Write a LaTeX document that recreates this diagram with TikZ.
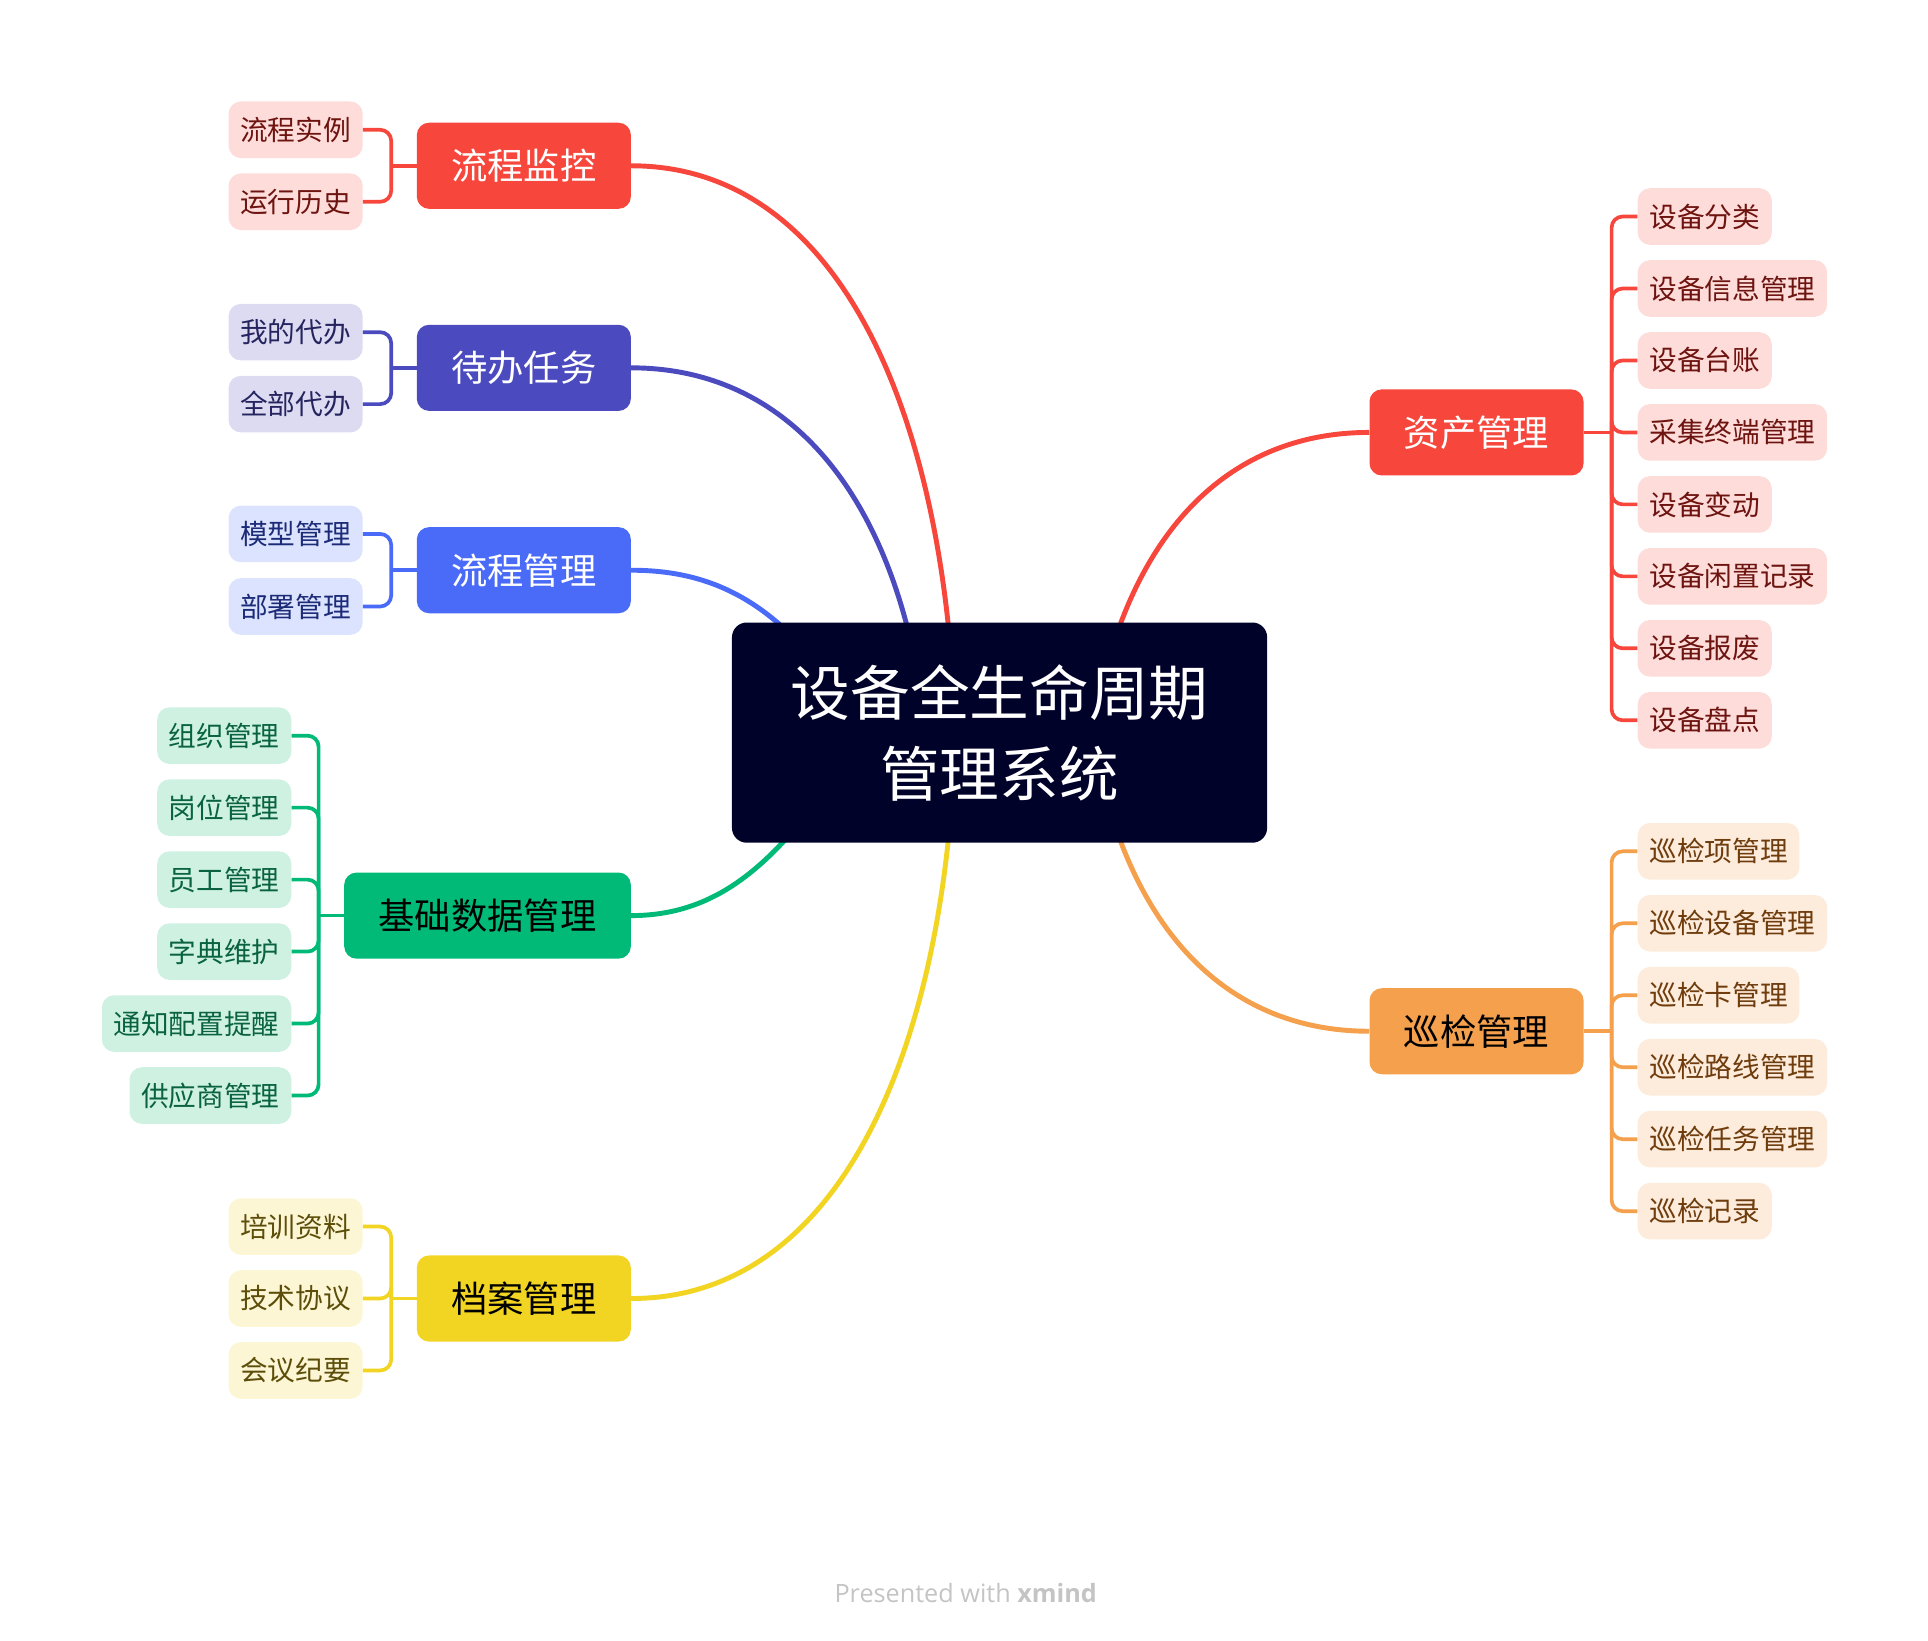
\documentclass[tikz,border=0pt]{standalone}
\usepackage{fontspec}
\setmainfont{Noto Sans CJK SC}
\newfontfamily\footfont{Open Sans}
\definecolor{cRoot}{HTML}{000229}
\definecolor{cRed}{HTML}{F7463C}
\definecolor{cInd}{HTML}{4B4ABF}
\definecolor{cBlue}{HTML}{4A6BF8}
\definecolor{cGreen}{HTML}{02BA77}
\definecolor{cYel}{HTML}{F2D422}
\definecolor{cOra}{HTML}{F5A04C}
\definecolor{fRed}{HTML}{FDDCDA}
\definecolor{fInd}{HTML}{DCDBF2}
\definecolor{fBlue}{HTML}{DCE3FE}
\definecolor{fGreen}{HTML}{CEF1E2}
\definecolor{fYel}{HTML}{FDF6D4}
\definecolor{fOra}{HTML}{FDEBDB}
\definecolor{tRed}{HTML}{6E1410}
\definecolor{tInd}{HTML}{25245E}
\definecolor{tBlue}{HTML}{1C2B78}
\definecolor{tGreen}{HTML}{0A6340}
\definecolor{tYel}{HTML}{5C4E0A}
\definecolor{tOra}{HTML}{6E3C0D}
\definecolor{cFoot}{HTML}{C4C4C4}
\begin{document}
\begin{tikzpicture}[x=1pt,y=-1pt,
  subbox/.style={rounded corners=10pt, inner xsep=9.5pt, inner ysep=0pt, minimum height=46pt, font=\fontsize{22.5}{27}\selectfont},
  topicbox/.style={rounded corners=10pt, inner xsep=28pt, inner ysep=0pt, minimum height=70pt, font=\fontsize{29.5}{35}\selectfont},
  rootbox/.style={rounded corners=12pt, fill=cRoot, text=white, minimum width=435pt, minimum height=179pt, inner sep=0pt, align=center, font=\fontsize{48.5}{66}\selectfont},
  curve/.style={line width=4pt},
  brk/.style={line width=3pt, rounded corners=9pt},
  sRed/.style={subbox, fill=fRed, text=tRed},
  sInd/.style={subbox, fill=fInd, text=tInd},
  sBlue/.style={subbox, fill=fBlue, text=tBlue},
  sGreen/.style={subbox, fill=fGreen, text=tGreen},
  sYel/.style={subbox, fill=fYel, text=tYel},
  sOra/.style={subbox, fill=fOra, text=tOra},
]
\useasboundingbox (0,0) rectangle (1567.2,1333.2);

% main topics
\node[topicbox, fill=cRed, text=white, anchor=east] (t1) at (513,134.75) {流程监控};
\node[topicbox, fill=cInd, text=white, anchor=east] (t2) at (513,299) {待办任务};
\node[topicbox, fill=cBlue, text=white, anchor=east] (t3) at (513,463.5) {流程管理};
\node[topicbox, fill=cGreen, text=black, anchor=east] (t4) at (513,744.25) {基础数据管理};
\node[topicbox, fill=cYel, text=black, anchor=east] (t5) at (513,1055.5) {档案管理};
\node[topicbox, fill=cRed, text=white, anchor=west] (t6) at (1113,351.5) {资产管理};
\node[topicbox, fill=cOra, text=black, anchor=west] (t7) at (1113,838.25) {巡检管理};

% curve end points (hidden behind root)
\coordinate (e1) at (775,560);
\coordinate (e2) at (748,560);
\coordinate (e3) at (680,560);
\coordinate (e4) at (680,630);
\coordinate (e5) at (775,631);
\coordinate (e6) at (895,560);
\coordinate (e7) at (895,631);

\draw[curve, cRed] (t1.east) .. controls (680,134.75) and (762,330) .. (e1);
\draw[curve, cInd] (t2.east) .. controls (640,299) and (722,400) .. (e2);
\draw[curve, cBlue] (t3.east) .. controls (580,463.5) and (630,490) .. (e3);
\draw[curve, cGreen] (t4.east) .. controls (585,744.25) and (630,700) .. (e4);
\draw[curve, cYel] (t5.east) .. controls (680,1055.5) and (762,861) .. (e5);
\draw[curve, cRed] (t6.west) .. controls (1000,351.5) and (925,430) .. (e6);
\draw[curve, cOra] (t7.west) .. controls (1000,838.25) and (925,760) .. (e7);

\node[rootbox] (root) at (812.5,595.5) {设备全生命周期\\管理系统};

% sub topics: 流程监控
\node[sRed, anchor=east] (a1) at (295,105.5) {流程实例};
\node[sRed, anchor=east] (a2) at (295,164) {运行历史};
\coordinate (ja) at (318,134.75);
\draw[brk, cRed] (a1.east) -| (ja);
\draw[brk, cRed] (a2.east) -| (ja);
\draw[brk, cRed] (ja) -- (t1.west);

% 待办任务
\node[sInd, anchor=east] (b1) at (295,270) {我的代办};
\node[sInd, anchor=east] (b2) at (295,328.5) {全部代办};
\coordinate (jb) at (318,299);
\draw[brk, cInd] (b1.east) -| (jb);
\draw[brk, cInd] (b2.east) -| (jb);
\draw[brk, cInd] (jb) -- (t2.west);

% 流程管理
\node[sBlue, anchor=east] (c1) at (295,434) {模型管理};
\node[sBlue, anchor=east] (c2) at (295,493) {部署管理};
\coordinate (jc) at (318,463.5);
\draw[brk, cBlue] (c1.east) -| (jc);
\draw[brk, cBlue] (c2.east) -| (jc);
\draw[brk, cBlue] (jc) -- (t3.west);

% 基础数据管理
\node[sGreen, anchor=east] (d1) at (237,598) {组织管理};
\node[sGreen, anchor=east] (d2) at (237,656.5) {岗位管理};
\node[sGreen, anchor=east] (d3) at (237,715) {员工管理};
\node[sGreen, anchor=east] (d4) at (237,773.5) {字典维护};
\node[sGreen, anchor=east] (d5) at (237,832) {通知配置提醒};
\node[sGreen, anchor=east] (d6) at (237,890.5) {供应商管理};
\coordinate (jd) at (259,744.25);
\foreach \n in {d1,d2,d3,d4,d5,d6} \draw[brk, cGreen] (\n.east) -| (jd);
\draw[brk, cGreen] (jd) -- (t4.west);

% 档案管理
\node[sYel, anchor=east] (f1) at (295,997) {培训资料};
\node[sYel, anchor=east] (f2) at (295,1055.5) {技术协议};
\node[sYel, anchor=east] (f3) at (295,1114) {会议纪要};
\coordinate (jf) at (318,1055.5);
\foreach \n in {f1,f2,f3} \draw[brk, cYel] (\n.east) -| (jf);
\draw[brk, cYel] (jf) -- (t5.west);

% 资产管理
\node[sRed, anchor=west] (g1) at (1331,176) {设备分类};
\node[sRed, anchor=west] (g2) at (1331,234.5) {设备信息管理};
\node[sRed, anchor=west] (g3) at (1331,293) {设备台账};
\node[sRed, anchor=west] (g4) at (1331,351.5) {采集终端管理};
\node[sRed, anchor=west] (g5) at (1331,410) {设备变动};
\node[sRed, anchor=west] (g6) at (1331,468.5) {设备闲置记录};
\node[sRed, anchor=west] (g7) at (1331,527) {设备报废};
\node[sRed, anchor=west] (g8) at (1331,585.5) {设备盘点};
\coordinate (jg) at (1310,351.5);
\foreach \n in {g1,g2,g3,g4,g5,g6,g7,g8} \draw[brk, cRed] (\n.west) -| (jg);
\draw[brk, cRed] (t6.east) -- (jg);

% 巡检管理
\node[sOra, anchor=west] (h1) at (1331,692) {巡检项管理};
\node[sOra, anchor=west] (h2) at (1331,750.5) {巡检设备管理};
\node[sOra, anchor=west] (h3) at (1331,809) {巡检卡管理};
\node[sOra, anchor=west] (h4) at (1331,867.5) {巡检路线管理};
\node[sOra, anchor=west] (h5) at (1331,926) {巡检任务管理};
\node[sOra, anchor=west] (h6) at (1331,984.5) {巡检记录};
\coordinate (jh) at (1310,838.25);
\foreach \n in {h1,h2,h3,h4,h5,h6} \draw[brk, cOra] (\n.west) -| (jh);
\draw[brk, cOra] (t7.east) -- (jh);

% footer
\node[text=cFoot, font=\footfont\fontsize{20.5}{24}\selectfont] (foot) at (785,1295) {Presented with \textbf{xmind}};
\end{tikzpicture}
\end{document}
